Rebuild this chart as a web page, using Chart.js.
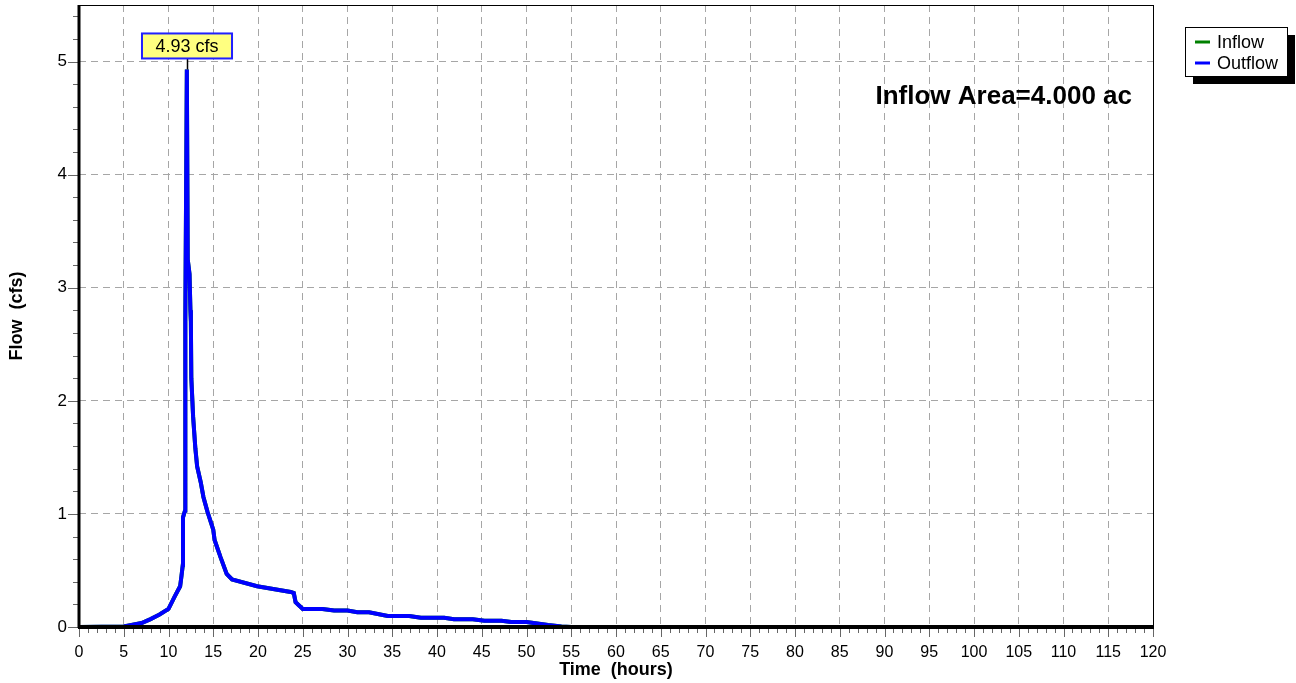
<!DOCTYPE html>
<html>
<head>
<meta charset="utf-8">
<script src="https://cdn.jsdelivr.net/npm/chart.js@4/dist/chart.umd.min.js"></script>
<style>
  html, body { margin: 0; padding: 0; background: #fff; }
  #flowChart { display: block; }
</style>
</head>
<body>
<canvas id="flowChart" width="1296" height="683"></canvas>
<script>
// Hydrograph data (hours / cfs)
const timeHours = [0, 5, 6, 7, 8, 9, 10, 10.7, 11.3, 11.45, 11.6, 11.62, 11.85, 11.88, 12.05,
    12.15, 12.35, 12.45, 12.5, 12.55, 12.75, 13.0, 13.2, 13.6, 13.9, 14.35, 15.0, 15.15, 15.8,
    16.5, 17.1, 19.9, 23.65, 24.0, 24.2, 25.0, 27.2, 28.5, 30.0, 31.1, 32.4, 34.5, 36.9, 38.2,
    40.8, 41.9, 44.0, 45.3, 47.2, 48.3, 50.0, 52.4, 53.9, 55, 120];
const outflowCfs = [0, 0.005, 0.02, 0.035, 0.07, 0.11, 0.16, 0.27, 0.36, 0.45, 0.55, 0.97, 1.03, 2.72, 4.93,
    3.25, 3.12, 2.8, 2.7, 2.2, 1.86, 1.58, 1.42, 1.28, 1.15, 1.02, 0.86, 0.77, 0.62,
    0.47, 0.42, 0.36, 0.31, 0.30, 0.22, 0.16, 0.16, 0.145, 0.145, 0.13, 0.13, 0.097, 0.097, 0.082,
    0.082, 0.068, 0.068, 0.056, 0.056, 0.044, 0.044, 0.018, 0.005, 0, 0];
// inflow is hidden under the outflow line in the picture
const inflowCfs = outflowCfs.slice();

const xTicks = { min: 0, max: 120, step: 5 };
const yTicks = { min: 0, max: 5.5, step: 1 };
const areaLabel = 'Inflow Area=4.000 ac';
const seriesNames = ['Inflow', 'Outflow'];
const seriesColors = ['#008000', '#0000ff'];

const FONT = "'Liberation Sans', Arial, Helvetica, sans-serif";

function toPoints(xs, ys) {
    return xs.map((x, i) => ({ x: x, y: ys[i] }));
}

// Frame, minor ticks, peak label, area text and legend
const hydroDecor = {
    id: 'hydroDecor',
    afterDatasetsDraw(chart) {
        const ctx = chart.ctx;
        const area = chart.chartArea;
        const xs = chart.scales.x;
        const ys = chart.scales.y;
        ctx.save();

        // ticks on x axis
        ctx.strokeStyle = '#666';
        ctx.lineWidth = 1;
        for (let t = xTicks.min; t <= xTicks.max; t++) {
            const px = Math.round(xs.getPixelForValue(t)) + 0.5;
            const len = t % 5 === 0 ? 10 : 6;
            ctx.beginPath();
            ctx.moveTo(px, area.bottom);
            ctx.lineTo(px, area.bottom + len);
            ctx.stroke();
        }
        // ticks on y axis
        for (let i = 0; i <= 27; i++) {
            const v = i * 0.2;
            const py = Math.round(ys.getPixelForValue(v)) + 0.5;
            const len = i % 5 === 0 ? 11 : 6;
            ctx.beginPath();
            ctx.moveTo(area.left - len, py);
            ctx.lineTo(area.left, py);
            ctx.stroke();
        }

        // frame
        ctx.strokeStyle = '#000';
        ctx.lineWidth = 1;
        ctx.strokeRect(area.left + 0.5, area.top + 0.5, area.right - area.left, area.bottom - area.top);
        ctx.lineWidth = 3;
        ctx.beginPath();
        ctx.moveTo(area.left, area.top);
        ctx.lineTo(area.left, area.bottom + 1);
        ctx.stroke();
        ctx.lineWidth = 4;
        ctx.beginPath();
        ctx.moveTo(area.left - 1, area.bottom);
        ctx.lineTo(area.right + 1, area.bottom);
        ctx.stroke();

        // peak label
        let pk = 0;
        outflowCfs.forEach((v, i) => { if (v > outflowCfs[pk]) pk = i; });
        const peakX = Math.round(xs.getPixelForValue(timeHours[pk]));
        const peakY = ys.getPixelForValue(outflowCfs[pk]);
        const text = outflowCfs[pk].toFixed(2) + ' cfs';
        ctx.font = '18px ' + FONT;
        const tw = ctx.measureText(text).width;
        const bw = tw + 27, bh = 25;
        const bx = peakX - bw / 2, by = peakY - 11 - bh;
        ctx.strokeStyle = '#000';
        ctx.lineWidth = 1.5;
        ctx.beginPath();
        ctx.moveTo(peakX + 0.5, by + bh);
        ctx.lineTo(peakX + 0.5, peakY);
        ctx.stroke();
        ctx.fillStyle = '#ffff80';
        ctx.fillRect(bx, by, bw, bh);
        ctx.strokeStyle = '#2020ff';
        ctx.lineWidth = 2;
        ctx.strokeRect(bx, by, bw, bh);
        ctx.fillStyle = '#000';
        ctx.textAlign = 'center';
        ctx.textBaseline = 'middle';
        ctx.fillText(text, peakX, by + bh / 2 + 1);

        // inflow area text
        ctx.font = 'bold 26px ' + FONT;
        ctx.textAlign = 'right';
        ctx.fillText(areaLabel, area.right - 21, 97);

        // legend box with shadow
        const lx = 1185, ly = 27, lw = 102, lh = 49;
        ctx.fillStyle = '#000';
        ctx.fillRect(lx + 8, ly + 8, lw, lh);
        ctx.fillStyle = '#fff';
        ctx.fillRect(lx, ly, lw, lh);
        ctx.strokeStyle = '#000';
        ctx.lineWidth = 1;
        ctx.strokeRect(lx + 0.5, ly + 0.5, lw, lh);
        ctx.font = '18px ' + FONT;
        ctx.textAlign = 'left';
        seriesNames.forEach((name, i) => {
            const yy = ly + 15 + i * 21;
            ctx.strokeStyle = seriesColors[i];
            ctx.lineWidth = 3;
            ctx.beginPath();
            ctx.moveTo(lx + 10, yy);
            ctx.lineTo(lx + 25, yy);
            ctx.stroke();
            ctx.fillStyle = '#000';
            ctx.fillText(name, lx + 32, yy + 1);
        });

        ctx.restore();
    }
};

new Chart(document.getElementById('flowChart').getContext('2d'), {
    type: 'line',
    data: {
        datasets: [
            {
                label: seriesNames[0],
                data: toPoints(timeHours, inflowCfs),
                borderColor: seriesColors[0],
                borderWidth: 4,
                pointRadius: 0,
                tension: 0,
                fill: false,
                order: 1
            },
            {
                label: seriesNames[1],
                data: toPoints(timeHours, outflowCfs),
                borderColor: seriesColors[1],
                borderWidth: 4,
                pointRadius: 0,
                tension: 0,
                fill: false,
                order: 0
            }
        ]
    },
    options: {
        responsive: false,
        animation: false,
        devicePixelRatio: 1,
        layout: { padding: { top: 5, right: 143, left: 0, bottom: 0 } },
        plugins: {
            legend: { display: false },
            tooltip: { enabled: false }
        },
        scales: {
            x: {
                type: 'linear',
                min: xTicks.min,
                max: xTicks.max,
                afterFit: (s) => { s.height = 56; s.paddingLeft = 0; s.paddingRight = 0; },
                ticks: {
                    stepSize: xTicks.step,
                    autoSkip: false,
                    maxRotation: 0,
                    padding: 16,
                    color: '#000',
                    font: { size: 16, family: FONT }
                },
                grid: { color: '#a6a6a6', lineWidth: 1, drawTicks: false },
                border: { display: false, dash: [7, 5] },
                title: {
                    display: true,
                    text: 'Time  (hours)',
                    color: '#000',
                    font: { size: 18, weight: 'bold', family: FONT },
                    padding: { top: 0, bottom: 2 }
                }
            },
            y: {
                min: yTicks.min,
                max: yTicks.max,
                afterFit: (s) => { s.width = 79; s.paddingTop = 0; s.paddingBottom = 0; },
                ticks: {
                    stepSize: yTicks.step,
                    padding: 12,
                    color: '#000',
                    font: { size: 17, family: FONT },
                    callback: (v) => Number.isInteger(v) ? v : ''
                },
                grid: { color: '#a6a6a6', lineWidth: 1, drawTicks: false },
                border: { display: false, dash: [7, 5] },
                title: {
                    display: true,
                    text: 'Flow  (cfs)',
                    color: '#000',
                    font: { size: 18, weight: 'bold', family: FONT },
                    padding: { top: 6, bottom: 0 }
                }
            }
        }
    },
    plugins: [hydroDecor]
});
</script>
</body>
</html>
